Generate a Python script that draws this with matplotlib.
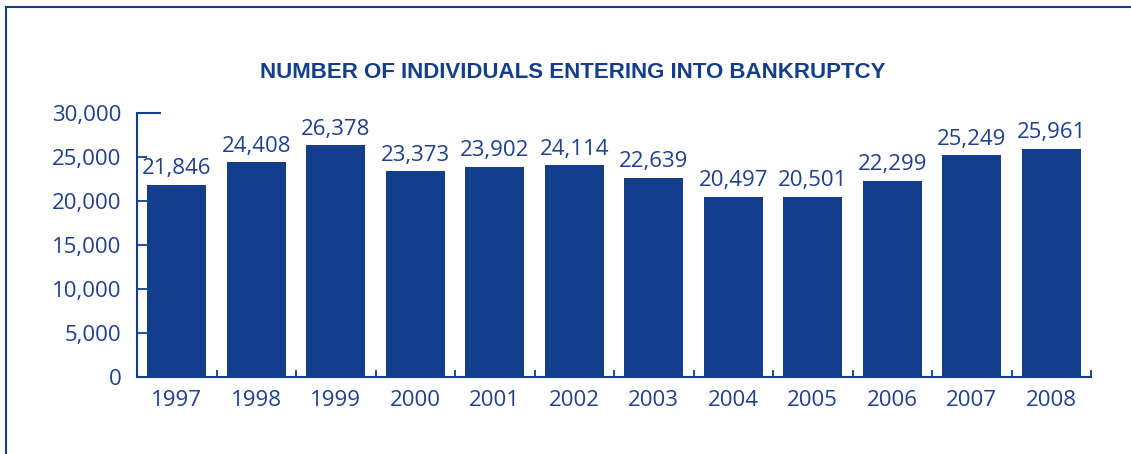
import matplotlib.pyplot as plt
from matplotlib.lines import Line2D

years = ['1997', '1998', '1999', '2000', '2001', '2002',
         '2003', '2004', '2005', '2006', '2007', '2008']
counts = [21846, 24408, 26378, 23373, 23902, 24114,
          22639, 20497, 20501, 22299, 25249, 25961]
yticks = [0, 5000, 10000, 15000, 20000, 25000, 30000]

blue = '#123e8c'
text_blue = '#1f3f8f'

fig = plt.figure(figsize=(11.31, 4.54), dpi=100)
ax = fig.add_axes([137/1131, 77/454, 954/1131, 264/454])

x = range(len(years))
ax.bar(x, counts, width=0.74, color=blue, zorder=2)

for i, v in enumerate(counts):
    ax.text(i, v + 600, f'{v:,}', ha='center', va='bottom',
            fontsize=16, color=text_blue, family='Open Sans')

ax.set_xlim(-0.5, len(years) - 0.5)
ax.set_ylim(0, 30000)
ax.set_yticks(yticks)
ax.set_yticklabels([f'{t:,}' for t in yticks], family='Open Sans',
                   fontsize=16, color=text_blue)
ax.set_xticks(list(x))
ax.set_xticklabels(years, family='Open Sans', fontsize=16, color=text_blue)
ax.set_xticks([i + 0.5 for i in range(len(years))], minor=True)

ax.tick_params(axis='y', which='major', direction='in', length=7,
               width=1.3, color=blue, pad=11)
ax.tick_params(axis='x', which='major', length=0, pad=9)
ax.tick_params(axis='x', which='minor', direction='in', length=5,
               width=1.3, color=blue)
ax.axhline(30000, xmin=0, xmax=23/954, color=blue, lw=1.5, clip_on=False)

for s in ['top', 'right']:
    ax.spines[s].set_visible(False)
for s in ['left', 'bottom']:
    ax.spines[s].set_color(blue)
    ax.spines[s].set_linewidth(1.5)

fig.text(573/1131, 1 - 72/454, 'NUMBER OF INDIVIDUALS ENTERING INTO BANKRUPTCY',
         ha='center', va='center', fontsize=16, fontweight='bold',
         color=blue, family='Liberation Sans')

# frame around the figure (top and left edges)
fig.add_artist(Line2D([6/1131, 6/1131], [0, 1 - 7/454], color=blue, lw=1.5))
fig.add_artist(Line2D([6/1131, 1], [1 - 7/454, 1 - 7/454], color=blue, lw=1.5))

fig.savefig('out.png', dpi=100)
